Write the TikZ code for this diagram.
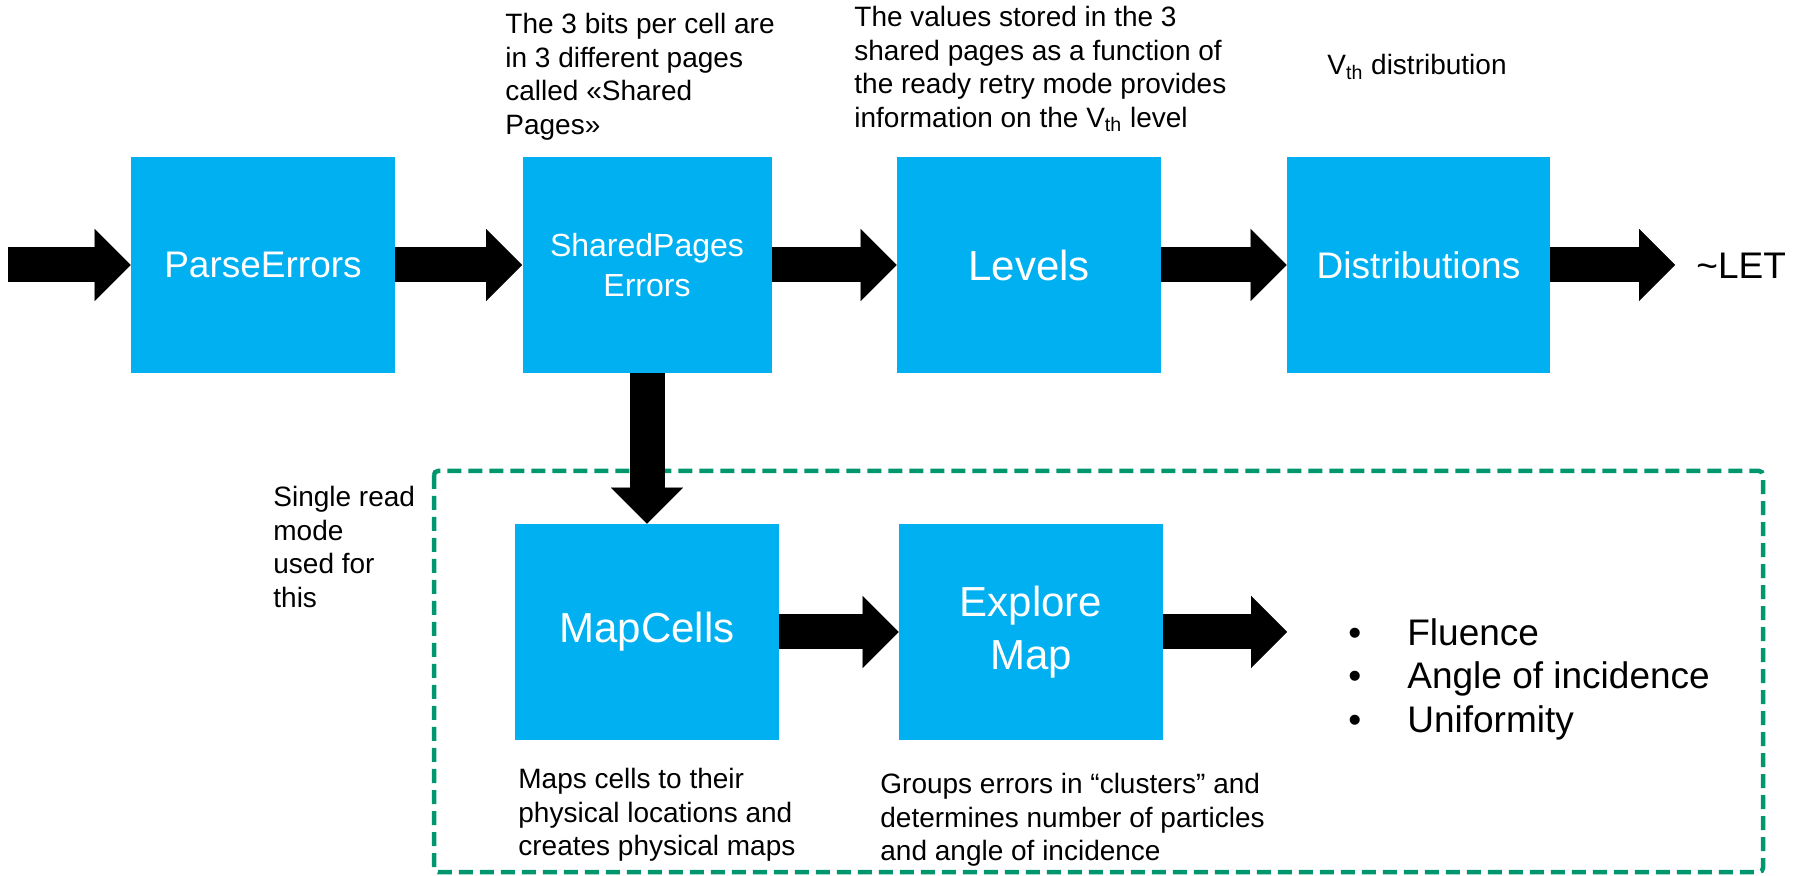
\documentclass[tikz,border=0pt]{standalone}
\usepackage{fontspec}
\setmainfont{Liberation Sans}
\usetikzlibrary{arrows.meta}
\definecolor{boxblue}{HTML}{00B0F0}
\definecolor{dashgreen}{RGB}{0,150,110}
\begin{document}
\begin{tikzpicture}[x=0.5pt,y=-0.5pt,
		blk/.style={fill=boxblue,text=white,minimum width=132pt,minimum height=108pt,inner sep=0pt,align=center},
		note/.style={anchor=north west,inner sep=0pt,align=left,font={\fontsize{14}{16.75}\selectfont}},
		big/.style={line width=17.5pt,-{Triangle[length=18pt,width=36pt,line width=0.01pt]}},
		font={\fontsize{18.5}{23}\selectfont}]
	\useasboundingbox (0,0) rectangle (1800,876);
	% upper row
	\node[blk] (parse) at (263,265) {ParseErrors};
	\node[blk,minimum width=124.5pt,font={\fontsize{16}{20}\selectfont}] (shared) at (647,265) {SharedPages\\Errors};
	\node[blk,font={\fontsize{21}{26}\selectfont}] (levels) at (1029,265) {Levels};
	\node[blk,minimum width=131.5pt] (distrib) at (1418.5,265) {Distributions};
	\node[anchor=north west,inner sep=0pt] (let) at (1696,253) {\textasciitilde LET};
	\coordinate (in) at (8,265);
	\draw[big] (in) -- (parse.west);
	\draw[big] (parse.east) -- (shared.west);
	\draw[big] (shared.east) -- (levels.west);
	\draw[big] (levels.east) -- (distrib.west);
	\draw[big,shorten >=10.5pt] (distrib.east) -- (distrib.east -| let.west);
	% notes above
	\node[note] (bits) at (505,13) {The 3 bits per cell are\\in 3 different pages\\called «Shared\\Pages»};
	\node[note] (vals) at (854,6) {The values stored in the 3\\shared pages as a function of\\the ready retry mode provides\\information on the V\textsubscript{th} level};
	\node[note] (vth) at (1327,54) {V\textsubscript{th} distribution};
	% lower row
	\draw[dashgreen,line width=2.25pt,dash pattern=on 7pt off 3.5pt,rounded corners=2pt] (434,471) rectangle (1763,872);
	\node[blk,font={\fontsize{21}{26}\selectfont}] (mapcells) at (647,632) {MapCells};
	\node[blk,font={\fontsize{21}{26.5}\selectfont}] (explore) at (1031,632) {Explore\\Map};
	\coordinate (out) at (1287,632);
	\draw[big] (shared.south) -- (mapcells.north);
	\draw[big] (mapcells.east) -- (explore.west);
	\draw[big] (explore.east) -- (out);
	\node[anchor=north west,inner sep=0pt,align=left,font={\fontsize{18.5}{21.75}\selectfont}] (res) at (1348,618)
		{\makebox[29.5pt][l]{\textbullet}Fluence\\\makebox[29.5pt][l]{\textbullet}Angle of incidence\\\makebox[29.5pt][l]{\textbullet}Uniformity};
	\node[note] (single) at (273,486) {Single read\\mode\\used for\\this};
	\node[note] (maps) at (518,768) {Maps cells to their\\physical locations and\\creates physical maps};
	\node[note] (groups) at (880,773) {Groups errors in “clusters” and\\determines number of particles\\and angle of incidence};
\end{tikzpicture}
\end{document}
